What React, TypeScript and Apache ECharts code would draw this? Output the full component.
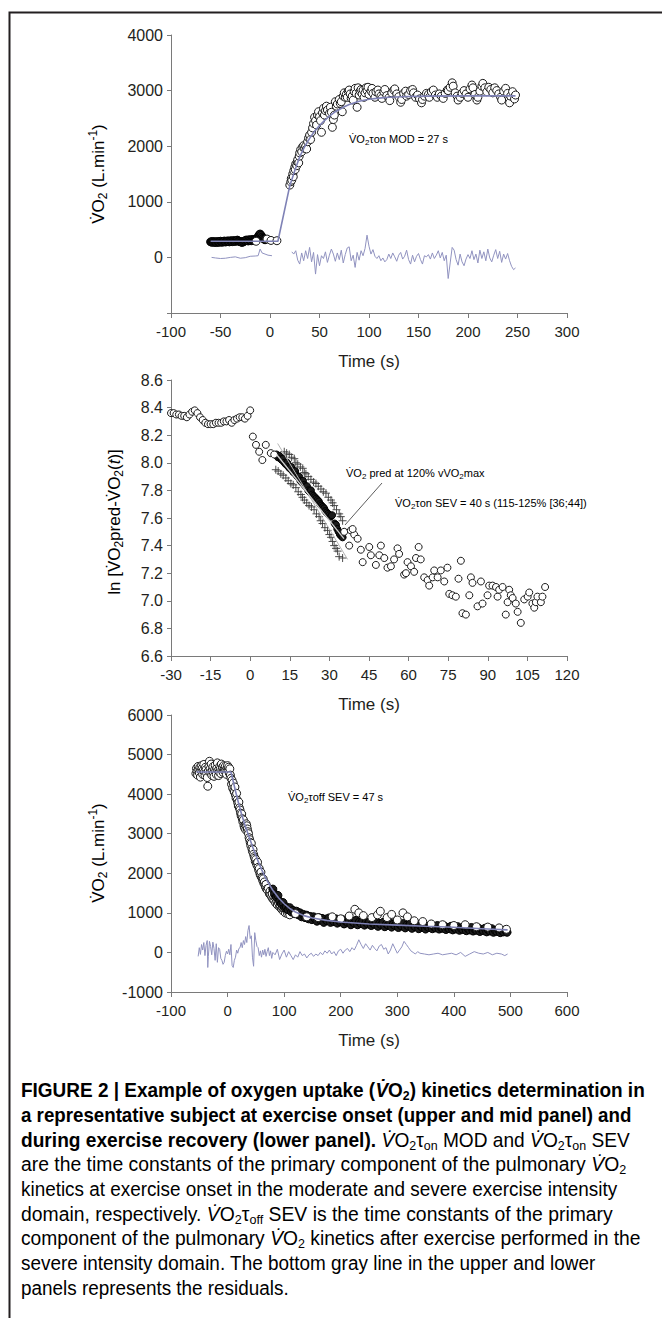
import React, { useEffect, useRef } from "react";
import * as echarts from "echarts";

type P = [number, number];

// ---------------- Upper panel: moderate exercise onset ----------------
const topBaseline: P[] = [[-60,280],[-59,275],[-58,285],[-57,270],[-56,282],[-55,276],[-54,268],[-53,285],[-52,279],[-51,272],[-50,290],[-49,281],[-48,274],[-47,287],[-46,293],[-45,278],[-44,285],[-43,296],[-42,288],[-41,280],[-40,299],[-39,292],[-38,284],[-37,302],[-36,295],[-35,288],[-34,300],[-33,310],[-32,296],[-31,289],[-30,284],[-29,276],[-28,270],[-27,283],[-26,291],[-25,300],[-24,312],[-23,305],[-22,296],[-21,318],[-20,309],[-19,300],[-18,322],[-17,314],[-16,305],[-15,326],[-14,318],[-13,340],[-12,372],[-11,405],[-10,420],[-9,398],[-8,366],[-7,345],[-6,330],[-5,318]];
const topBaselineOpen: P[] = [[-14,290],[-3,330],[1,305],[7,300]];
const topExercise: P[] = [[20,1300],[21,1360],[21.5,1420],[22,1390],[23,1500],[23.5,1450],[24,1560],[25,1620],[25.5,1580],[26,1680],[27,1650],[27.5,1720],[28,1760],[29,1700],[29.5,1820],[30,1880],[31,1940],[32,1900],[33,1990],[34,2010],[35,1960],[36,2000],[37,1950],[38,2080],[39,2150],[40,2200],[41,2120],[42,2250],[43,2330],[44,2410],[45,2520],[46,2460],[47,2380],[48,2560],[49,2620],[50,2530],[51,2460],[52,2250],[53,2600],[54,2680],[55,2560],[56,2640],[57,2720],[58,2650],[60,2590],[61,2700],[62,2610],[63,2340],[64,2480],[65,2560],[66,2800],[67,2720],[68,2760],[70,2840],[71,2770],[72,2800],[73,2620],[74,2900],[75,2960],[76,2880],[77,2930],[78,2880],[79,2990],[80,3010],[81,2940],[82,2860],[83,2900],[84,2830],[85,2980],[86,3040],[87,2950],[88,2700],[89,3050],[90,2920],[91,2990],[92,3020],[93,2940],[94,3010],[95,2880],[96,2960],[97,3050],[98,3000],[99,3060],[100,2930],[102,2990],[103,3040],[104,2950],[106,2880],[107,2980],[109,3010],[110,2940],[112,2900],[113,2860],[115,2980],[116,3020],[118,2910],[120,2870],[121,2820],[123,2960],[125,3010],[126,3030],[128,2940],[130,2890],[132,2790],[133,2840],[135,2950],[137,2990],[138,2900],[140,2930],[142,3000],[144,3020],[145,2960],[147,2880],[149,2920],[151,2850],[153,2780],[154,2840],[156,2900],[158,2950],[160,2930],[161,2880],[163,2980],[165,3010],[167,2920],[169,2880],[171,2940],[173,2900],[175,2860],[177,2950],[179,3010],[180,3000],[182,3060],[184,3140],[185,3080],[187,2960],[189,2900],[190,2830],[192,2880],[194,2950],[196,3000],[198,2940],[200,2880],[202,3030],[204,3100],[205,3050],[207,2930],[209,2830],[210,2880],[212,2990],[214,3080],[215,3130],[217,3050],[219,2980],[221,3060],[223,3020],[225,2960],[227,3050],[229,3000],[231,2940],[233,2880],[234,2830],[236,2990],[238,3040],[240,2950],[242,2780],[243,2900],[245,2980],[247,2850],[248,2920]];
const topFit: P[] = [[-60,290],[8,290],[20,1290],[25,1560],[30,1810],[35,1990],[40,2140],[45,2270],[50,2370],[55,2460],[60,2540],[65,2610],[70,2660],[75,2710],[80,2750],[90,2810],[100,2845],[110,2865],[120,2880],[140,2895],[160,2900],[200,2905],[248,2905]];
const topResidPre: P[] = [[-59,0],[-55,-10],[-50,-20],[-45,-15],[-40,0],[-35,10],[-30,-15],[-25,-5],[-20,20],[-15,25],[-12,30],[-10,150],[-8,80],[-5,60],[-2,40],[2,30]];
const topResidPost: P[] = [[22,100],[24,60],[26,120],[28,-50],[30,-120],[32,80],[34,-60],[36,120],[38,-20],[40,180],[42,-80],[44,90],[46,-300],[48,50],[50,-150],[52,30],[54,-20],[56,100],[58,-90],[60,40],[62,150],[64,60],[66,-70],[68,80],[70,-40],[72,130],[74,-100],[76,50],[78,170],[80,190],[82,-60],[84,40],[86,-180],[88,90],[90,-50],[92,120],[94,30],[96,160],[98,400],[100,200],[102,60],[104,140],[106,20],[108,-20],[110,30],[112,-60],[114,-10],[116,-80],[118,-40],[120,60],[122,-20],[124,80],[126,10],[128,-70],[130,40],[132,90],[134,-30],[136,20],[138,130],[140,-40],[142,-120],[144,40],[146,-80],[148,20],[150,70],[152,-40],[154,-120],[156,30],[158,10],[160,50],[162,-30],[164,80],[166,-20],[168,40],[170,120],[172,-10],[174,90],[176,-60],[178,40],[180,-380],[182,-100],[184,180],[186,130],[188,-40],[190,-140],[192,60],[194,-80],[196,-150],[198,-30],[200,50],[202,-20],[204,120],[206,-40],[208,60],[210,-100],[212,130],[214,-20],[216,100],[218,-60],[220,150],[222,-10],[224,-80],[226,40],[228,140],[230,-20],[232,110],[234,-90],[236,60],[238,-30],[240,70],[242,-60],[244,-160],[246,-220],[248,-190]];

// ---------------- Mid panel: ln transform, severe onset ----------------
const midBaseline: P[] = [[-30,8.36],[-29,8.36],[-28,8.35],[-27,8.35],[-26,8.34],[-25,8.34],[-24,8.33],[-23,8.35],[-22,8.37],[-21,8.38],[-20,8.36],[-19,8.33],[-18,8.31],[-17,8.29],[-16,8.28],[-15,8.28],[-14,8.28],[-13,8.29],[-12,8.29],[-11,8.29],[-10,8.30],[-9,8.30],[-8,8.31],[-7,8.29],[-6,8.31],[-5,8.32],[-4,8.33],[-3,8.33],[-2,8.32],[-1,8.34],[0,8.38]];
const midEarly: P[] = [[1,8.19],[2.2,8.13],[3.4,8.08],[4.6,8.02],[5.9,8.13],[7.8,8.07],[9.1,8.06]];
const midDense: P[] = [[10,8.06],[10.5,8.04],[11,8.05],[11.5,8.03],[12,8.02],[12.5,8.03],[13,8.00],[13.5,7.99],[14,8.00],[14.5,7.97],[15,7.96],[15.5,7.97],[16,7.94],[16.5,7.93],[17,7.94],[17.5,7.91],[18,7.90],[18.5,7.90],[19,7.87],[19.5,7.86],[20,7.87],[20.5,7.84],[21,7.83],[21.5,7.83],[22,7.80],[22.5,7.79],[23,7.80],[23.5,7.77],[24,7.76],[24.5,7.75],[25,7.74],[25.5,7.73],[26,7.72],[26.5,7.70],[27,7.69],[27.5,7.68],[28,7.67],[28.5,7.65],[29,7.64],[29.5,7.63],[30,7.62],[30.5,7.61],[31,7.62],[32,7.56],[32.5,7.55],[33,7.52],[33.5,7.50],[34,7.48],[34.5,7.47],[35,7.46]];
const midCrossUpper: P[] = [[12.9,8.08],[13.8,8.07],[14.8,8.06],[15.7,8.04],[16.7,8.03],[17.3,8.00],[18,7.99],[19,7.97],[19.9,7.96],[20.5,7.93],[21.1,7.92],[22,7.90],[23,7.88],[24,7.86],[24.9,7.85],[25.8,7.83],[26.8,7.81],[27.7,7.79],[28.7,7.78],[29.6,7.75],[30.6,7.73],[31.2,7.71],[31.8,7.69],[32.7,7.66],[33.7,7.63],[34.3,7.61],[35,7.58]];
const midCrossLower: P[] = [[9.7,7.95],[10.6,7.94],[11.6,7.92],[12.5,7.91],[13.5,7.89],[14.4,7.87],[15.4,7.85],[16.3,7.84],[17.3,7.82],[18.2,7.79],[19.2,7.77],[19.8,7.75],[20.5,7.73],[21.4,7.71],[22.3,7.69],[23.2,7.68],[24.2,7.66],[25.1,7.63],[26.1,7.61],[26.7,7.58],[27.4,7.56],[28.3,7.53],[29.3,7.51],[30,7.48],[30.6,7.46],[31.2,7.43],[31.8,7.40],[32.5,7.38],[33.1,7.36],[33.7,7.32],[35,7.31]];
const midLineCenter: P[] = [[10,8.06],[35.5,7.45]];
const midLineSteep: P[] = [[10.4,8.14],[36.9,7.30]];
const midLate: P[] = [[35.6,7.50],[38.1,7.51],[39.4,7.48],[37.5,7.40],[38.8,7.52],[40.7,7.45],[41.9,7.37],[45.1,7.39],[42.6,7.28],[45.7,7.33],[48.9,7.33],[49.5,7.40],[47.6,7.26],[50.8,7.31],[52.0,7.24],[53.3,7.25],[54.5,7.30],[55.8,7.38],[56.4,7.34],[58.3,7.19],[59.0,7.20],[59.6,7.28],[60.9,7.25],[62.1,7.21],[62.8,7.31],[63.8,7.39],[64.6,7.30],[65.9,7.17],[67.2,7.15],[67.8,7.11],[69.1,7.17],[69.7,7.22],[71.0,7.17],[72.2,7.22],[73.5,7.14],[74.7,7.24],[75.4,7.05],[76.6,7.04],[77.9,7.03],[78.9,7.16],[79.8,7.29],[80.4,6.91],[81.7,6.90],[83.0,7.04],[83.6,7.17],[84.2,7.13],[86.1,6.96],[87.4,7.14],[88.0,6.98],[89.9,7.04],[90.5,7.11],[91.8,7.11],[93.1,7.10],[93.7,7.03],[94.3,7.08],[95.6,7.10],[96.8,6.90],[97.5,6.99],[98.1,7.08],[98.7,7.04],[99.4,7.02],[100.6,6.98],[101.3,6.92],[102.5,6.84],[103.8,7.01],[105.1,7.03],[105.7,7.06],[106.9,6.98],[107.6,6.95],[108.2,6.99],[108.8,7.03],[110.1,6.99],[110.7,7.03],[111.7,7.10]];

// ---------------- Lower panel: recovery ----------------
const botBaseline: P[] = [[-56,4520],[-55,4650],[-54,4580],[-53,4480],[-52,4700],[-51,4610],[-50,4540],[-49,4680],[-48,4430],[-47,4590],[-46,4720],[-45,4650],[-44,4500],[-43,4600],[-42,4750],[-41,4560],[-40,4470],[-39,4680],[-38,4620],[-37,4530],[-36,4420],[-35,4200],[-34,4580],[-33,4700],[-32,4830],[-31,4640],[-30,4550],[-29,4760],[-28,4480],[-27,4600],[-26,4690],[-25,4540],[-24,4450],[-23,4620],[-22,4730],[-21,4580],[-20,4500],[-19,4660],[-18,4790],[-17,4600],[-16,4470],[-15,4560],[-14,4700],[-13,4640],[-12,4520],[-11,4760],[-10,4610],[-9,4680],[-8,4550],[-7,4720],[-6,4640],[-5,4580],[-4,4700],[-3,4610],[-2,4500],[-1,4660],[0,4720],[1,4600],[2,4680],[3,4530],[4,4640],[5,4480]];
const botDrop: P[] = [[6,4400],[7,4250],[8,4350],[9,4150],[10,4280],[11,4100],[12,4050],[13,4180],[14,3980],[15,3900],[16,4020],[17,3850],[18,3780],[19,3700],[20,3800],[21,3650],[22,3600],[23,3520],[24,3450],[25,3500],[26,3380],[27,3300],[28,3350],[29,3200],[30,3150],[31,3220],[32,3100],[33,3250],[34,3200],[35,3120],[36,3050],[37,3000],[38,2900],[39,2850],[40,2780],[41,2700],[42,2760],[43,2620],[44,2550],[45,2600],[46,2480],[47,2420],[48,2380],[49,2300],[50,2350],[51,2250],[52,2200],[53,2280],[54,2150],[55,2080],[56,2120],[57,2000],[58,1950],[59,2030],[60,1900],[61,1880],[62,1820],[63,1860],[64,1750],[65,1780],[66,1700],[67,1650],[68,1720],[69,1600],[70,1580],[72,1620],[74,1480],[75,1550],[76,1450],[78,1400],[79,1480],[80,1350],[82,1320],[84,1380],[85,1250],[87,1300],[88,1200],[90,1250],[92,1150],[93,1180],[95,1100],[97,1130],[98,1050],[100,1080],[102,1000],[104,1060],[106,980],[108,1020],[110,950]];
const botBand: P[] = [[80,1600],[83,1480],[86,1400],[89,1440],[92,1290],[95,1230],[98,1260],[101,1130],[104,1150],[107,1080],[110,1130],[113,1020],[116,1060],[119,980],[122,1040],[125,950],[128,1000],[131,900],[134,960],[137,880],[140,940],[143,850],[146,910],[149,830],[152,900],[155,850],[158,790],[161,880],[164,820],[167,860],[170,760],[173,840],[176,800],[179,870],[182,760],[185,820],[188,780],[191,850],[194,740],[197,810],[200,770],[203,830],[206,720],[209,790],[212,760],[215,820],[218,700],[221,780],[224,740],[227,810],[230,700],[233,770],[236,730],[239,800],[242,690],[245,760],[248,720],[251,780],[254,680],[257,740],[260,710],[263,770],[266,660],[269,730],[272,700],[275,760],[278,650],[281,720],[284,690],[287,750],[290,640],[293,710],[296,680],[299,740],[302,630],[305,700],[308,670],[311,730],[314,620],[317,690],[320,660],[323,720],[326,610],[329,680],[332,650],[335,710],[338,600],[341,670],[344,640],[347,700],[350,590],[353,660],[356,630],[359,690],[362,600],[365,650],[368,620],[371,680],[374,590],[377,640],[380,610],[383,670],[386,580],[389,630],[392,600],[395,660],[398,570],[401,620],[404,590],[407,650],[410,560],[413,610],[416,580],[419,640],[422,550],[425,600],[428,570],[431,630],[434,540],[437,590],[440,560],[443,620],[446,530],[449,580],[452,550],[455,610],[458,520],[461,570],[464,540],[467,600],[470,510],[473,560],[476,530],[479,580],[482,500],[485,550],[488,520],[491,570],[494,510]];
const botScatter: P[] = [[120,980],[140,900],[160,880],[185,900],[200,850],[215,920],[225,1090],[232,1000],[240,930],[255,880],[265,950],[270,1040],[282,880],[290,960],[300,820],[310,1000],[318,900],[330,800],[345,780],[360,720],[380,700],[400,680],[420,700],[440,650],[460,640],[480,620],[493,585]];
const botFit: P[] = [[-55,4560],[6,4560],[10,4320],[15,4020],[20,3740],[25,3480],[30,3250],[36,3000],[40,2840],[45,2640],[50,2450],[55,2270],[60,2100],[65,1950],[70,1810],[80,1570],[90,1380],[100,1230],[110,1110],[120,1020],[135,930],[150,870],[175,810],[200,770],[250,720],[300,690],[350,660],[400,635],[450,600],[495,570]];
const botResid: P[] = [[-52,-100],[-50,120],[-48,-50],[-46,200],[-44,60],[-42,250],[-40,-80],[-38,180],[-36,300],[-35,-380],[-34,-100],[-32,280],[-30,150],[-28,-60],[-26,260],[-24,100],[-22,-200],[-20,220],[-18,-250],[-16,120],[-14,80],[-12,-150],[-10,-200],[-8,-300],[-6,-250],[-4,-80],[-2,30],[0,-40],[2,80],[4,-60],[6,200],[8,-330],[10,-380],[12,-200],[14,-120],[16,60],[18,-20],[20,100],[22,120],[24,250],[26,120],[28,300],[30,200],[32,400],[34,250],[36,550],[38,680],[40,350],[42,420],[44,-120],[46,-350],[48,500],[50,300],[52,150],[54,120],[56,-80],[58,40],[60,-120],[62,60],[64,-60],[66,80],[68,-100],[70,20],[72,120],[74,-80],[76,40],[78,-150],[80,0],[84,-60],[88,80],[92,-180],[96,-40],[100,60],[104,-120],[108,20],[112,-80],[116,-180],[120,-60],[124,-120],[128,20],[132,-80],[136,-40],[140,-140],[144,-60],[148,-20],[152,-100],[156,-40],[160,-80],[164,0],[168,-60],[172,40],[176,-20],[180,60],[184,-40],[188,20],[192,-80],[196,40],[200,80],[204,-20],[208,60],[212,100],[216,20],[220,120],[224,60],[228,180],[232,320],[236,200],[240,100],[244,220],[248,140],[252,60],[256,180],[260,100],[264,40],[268,160],[272,200],[276,80],[280,120],[284,-40],[288,60],[292,220],[296,100],[300,-20],[304,60],[308,140],[312,280],[316,200],[320,120],[324,40],[328,0],[332,-40],[336,20],[340,-20],[348,-40],[356,-60],[364,-40],[372,-20],[380,-60],[388,-40],[396,-20],[404,-60],[412,0],[420,-100],[428,-40],[436,20],[444,-20],[452,-40],[460,0],[468,-60],[476,-20],[484,-40],[490,-80],[495,-40]];

// ---------------- Text ----------------
const X_TITLE = "Time (s)";
const DOT_V = "V\u0307";

const TXT = "#231f20";
const AX = "#7a7a7a";
const FIT = "#7f82b6";
const RES = "#9193c0";
const CHART_FONT = "Liberation Sans, Arial, Helvetica, sans-serif";
const CAP_FONT = "Liberation Sans Narrow, Liberation Sans, Arial, sans-serif";

type Tok = [string, string];
const captionLines: Tok[][] = [
  [["b", "FIGURE 2 | Example of oxygen uptake ("], ["bi", DOT_V], ["b", "O"], ["bs", "2"], ["b", ") kinetics determination in"]],
  [["b", "a representative subject at exercise onset (upper and mid panel) and"]],
  [["b", "during exercise recovery (lower panel). "], ["ri", DOT_V], ["r", "O"], ["rs", "2"], ["r", "\u03c4"], ["rs", "on"], ["r", " MOD and "], ["ri", DOT_V], ["r", "O"], ["rs", "2"], ["r", "\u03c4"], ["rs", "on"], ["r", " SEV"]],
  [["r", "are the time constants of the primary component of the pulmonary "], ["ri", DOT_V], ["r", "O"], ["rs", "2"]],
  [["r", "kinetics at exercise onset in the moderate and severe exercise intensity"]],
  [["r", "domain, respectively. "], ["ri", DOT_V], ["r", "O"], ["rs", "2"], ["r", "\u03c4"], ["rs", "off"], ["r", " SEV is the time constants of the primary"]],
  [["r", "component of the pulmonary "], ["ri", DOT_V], ["r", "O"], ["rs", "2"], ["r", " kinetics after exercise performed in the"]],
  [["r", "severe intensity domain. The bottom gray line in the upper and lower"]],
  [["r", "panels represents the residuals."]],
];
const captionRight = [645, 632, 630, 626, 618, 613, 641, 596, 289];

const CAP_SIZE = 20;
const CAP_SUB = 13;
const CAP_LH = 24;
const capRich: Record<string, any> = {
  b: { fontFamily: CAP_FONT, fontSize: CAP_SIZE, fontWeight: "bold", color: "#1a1a1a", lineHeight: CAP_LH },
  bi: { fontFamily: CAP_FONT, fontSize: CAP_SIZE, fontWeight: "bold", fontStyle: "italic", color: "#1a1a1a", lineHeight: CAP_LH },
  bs: { fontFamily: CAP_FONT, fontSize: CAP_SUB, fontWeight: "bold", color: "#1a1a1a", lineHeight: 14, verticalAlign: "bottom" },
  r: { fontFamily: CAP_FONT, fontSize: CAP_SIZE, color: "#3f3f3f", lineHeight: CAP_LH },
  ri: { fontFamily: CAP_FONT, fontSize: CAP_SIZE, fontStyle: "italic", color: "#3f3f3f", lineHeight: CAP_LH },
  rs: { fontFamily: CAP_FONT, fontSize: CAP_SUB, color: "#3f3f3f", lineHeight: 14, verticalAlign: "bottom" },
};

const smallRich: Record<string, any> = {
  a: { fontFamily: CHART_FONT, fontSize: 11, color: TXT, lineHeight: 14 },
  s: { fontFamily: CHART_FONT, fontSize: 8, color: TXT, lineHeight: 8, verticalAlign: "bottom" },
};
const titleRich: Record<string, any> = {
  n: { fontFamily: CHART_FONT, fontSize: 17, color: TXT, lineHeight: 22 },
  ni: { fontFamily: CHART_FONT, fontSize: 17, fontStyle: "italic", color: TXT, lineHeight: 22 },
  s: { fontFamily: CHART_FONT, fontSize: 12, color: TXT, lineHeight: 12, verticalAlign: "bottom" },
  p: { fontFamily: CHART_FONT, fontSize: 12, color: TXT, lineHeight: 12, verticalAlign: "top" },
};

const toRich = (toks: Tok[]) => toks.map(([s, t]) => `{${s}|${t}}`).join("");

export default function App() {
  const ref = useRef<HTMLDivElement>(null);

  useEffect(() => {
    if (!ref.current) return;
    const chart = echarts.init(ref.current, null, { renderer: "svg" });

    const ctx = document.createElement("canvas").getContext("2d")!;
    const tokWidth = (s: string, t: string) => {
      const st = capRich[s];
      ctx.font = `${st.fontStyle || "normal"} ${st.fontWeight || "normal"} ${st.fontSize}px ${st.fontFamily}`;
      return ctx.measureText(t).width;
    };
    const CAP_LEFT = 21;
    const CAP_TOP = 1090;
    const CAP_STEP = 24.7;
    const captionEls = captionLines.map((toks, i) => {
      const w = toks.reduce((a, [s, t]) => a + tokWidth(s, t), 0);
      const sx = w > 0 ? (captionRight[i] - CAP_LEFT) / w : 1;
      return {
        type: "text",
        x: CAP_LEFT,
        y: CAP_TOP + i * CAP_STEP,
        scaleX: sx,
        silent: true,
        z: 20,
        style: { x: 0, y: 0, text: toRich(toks), rich: capRich, align: "left", textAlign: "left", verticalAlign: "middle", textVerticalAlign: "middle" },
      };
    });

    const smallText = (x: number, y: number, toks: Tok[]) => ({
      type: "text", x, y, silent: true, z: 20,
      style: { x: 0, y: 0, text: toRich(toks), rich: smallRich, align: "left", textAlign: "left", verticalAlign: "middle", textVerticalAlign: "middle" },
    });
    const yTitle = (x: number, y: number, toks: Tok[]) => ({
      type: "text", x, y, rotation: Math.PI / 2, silent: true, z: 20,
      style: { x: 0, y: 0, text: toRich(toks), rich: titleRich, align: "center", textAlign: "center", verticalAlign: "middle", textVerticalAlign: "middle" },
    });

    const grids = [
      { left: 171, top: 35, width: 396, height: 278 },
      { left: 171, top: 380, width: 396, height: 276 },
      { left: 171, top: 715, width: 396, height: 277 },
    ].map((g) => ({ ...g, containLabel: false, outerBoundsMode: "none" }));

    const xAxis = (gi: number, min: number, max: number, interval: number) => ({
      type: "value", gridIndex: gi, min, max, interval,
      axisLine: { show: true, onZero: false, lineStyle: { color: AX, width: 1 } },
      axisTick: { show: true, inside: false, length: 5, lineStyle: { color: AX, width: 1 } },
      splitLine: { show: false },
      axisLabel: { fontSize: 15, color: TXT, margin: 11, fontFamily: CHART_FONT },
      name: X_TITLE, nameLocation: "middle", nameGap: 40,
      nameTextStyle: { fontSize: 17, color: TXT, fontFamily: CHART_FONT },
    });
    const yAxis = (gi: number, min: number, max: number, interval: number, fmt: (v: number) => string) => ({
      type: "value", gridIndex: gi, min, max, interval,
      axisLine: { show: true, onZero: false, lineStyle: { color: AX, width: 1 } },
      axisTick: { show: true, inside: false, length: 4, lineStyle: { color: AX, width: 1 } },
      splitLine: { show: false },
      axisLabel: { fontSize: 16, color: TXT, margin: 8, fontFamily: CHART_FONT, formatter: fmt },
    });

    const openPts = (gi: number, data: P[], size: number) => ({
      type: "scatter", xAxisIndex: gi, yAxisIndex: gi, data, symbol: "circle", symbolSize: size, silent: true,
      itemStyle: { color: "#ffffff", borderColor: "#1a1a1a", borderWidth: 1, opacity: 1 },
    });
    const densePts = (gi: number, data: P[], size: number) => ({
      type: "scatter", xAxisIndex: gi, yAxisIndex: gi, data, symbol: "circle", symbolSize: size, silent: true,
      itemStyle: { color: "#1c1c1c", borderColor: "#000000", borderWidth: 1, opacity: 1 },
    });
    const crossPts = (gi: number, data: P[]) => ({
      type: "scatter", xAxisIndex: gi, yAxisIndex: gi, data, symbol: "path://M0 5 L10 5 M5 0 L5 10", symbolSize: 8, silent: true,
      itemStyle: { color: "transparent", borderColor: "#3a3a3a", borderWidth: 0.9, opacity: 1 },
    });
    const line = (gi: number, data: P[], color: string, width: number) => ({
      type: "line", xAxisIndex: gi, yAxisIndex: gi, data, symbol: "none", showSymbol: false, silent: true,
      lineStyle: { color, width }, z: 3,
    });

    const option: any = {
      animation: false,
      backgroundColor: "#ffffff",
      textStyle: { fontFamily: CHART_FONT },
      grid: grids,
      xAxis: [xAxis(0, -100, 300, 50), xAxis(1, -30, 120, 15), xAxis(2, -100, 600, 100)],
      yAxis: [
        yAxis(0, -1000, 4000, 1000, (v) => (v === -1000 ? "" : String(v))),
        yAxis(1, 6.6, 8.6, 0.2, (v) => v.toFixed(1)),
        yAxis(2, -1000, 6000, 1000, (v) => String(v)),
      ],
      series: [
        // upper
        densePts(0, topBaseline, 8),
        openPts(0, topBaselineOpen, 8),
        openPts(0, topExercise, 8),
        line(0, topFit, FIT, 1.6),
        line(0, topResidPre, RES, 1),
        line(0, topResidPost, RES, 1),
        // mid
        line(1, midLineSteep, "#b5b5b5", 1),
        crossPts(1, midCrossUpper),
        crossPts(1, midCrossLower),
        densePts(1, midDense, 7),
        line(1, midLineCenter, "#d0d0d0", 1.3),
        openPts(1, midBaseline, 7),
        openPts(1, midEarly, 7),
        openPts(1, midLate, 7),
        // lower
        openPts(2, botBaseline, 8),
        openPts(2, botDrop, 8),
        densePts(2, botBand, 8),
        openPts(2, botScatter, 8),
        line(2, botFit, FIT, 1.6),
        line(2, botResid, RES, 1),
      ],
      graphic: {
        elements: [
          { type: "rect", silent: true, z: 30, shape: { x: 9.5, y: 12.5, width: 720, height: 1420 }, style: { fill: "none", stroke: "#231f20", lineWidth: 2 } },
          yTitle(98, 174, [["n", DOT_V + "O"], ["s", "2"], ["n", " (L.min"], ["p", "-1"], ["n", ")"]]),
          yTitle(114, 522, [["n", "ln ["], ["n", DOT_V + "O"], ["s", "2"], ["n", "pred-" + DOT_V + "O"], ["s", "2"], ["n", "("], ["ni", "t"], ["n", ")]"]]),
          yTitle(98, 853, [["n", DOT_V + "O"], ["s", "2"], ["n", " (L.min"], ["p", "-1"], ["n", ")"]]),
          smallText(349, 139, [["a", DOT_V + "O"], ["s", "2"], ["a", "\u03c4on MOD = 27 s"]]),
          smallText(346, 473, [["a", DOT_V + "O"], ["s", "2"], ["a", " pred at 120% vVO"], ["s", "2"], ["a", "max"]]),
          smallText(395, 503, [["a", DOT_V + "O"], ["s", "2"], ["a", "\u03c4on SEV = 40 s (115-125% [36;44])"]]),
          smallText(288, 797, [["a", DOT_V + "O"], ["s", "2"], ["a", "\u03c4off SEV = 47 s"]]),
          { type: "line", silent: true, z: 20, shape: { x1: 382, y1: 483, x2: 345, y2: 525 }, style: { stroke: "#333333", lineWidth: 0.8 } },
          ...captionEls,
        ],
      },
    };

    chart.setOption(option);
    return () => chart.dispose();
  }, []);

  return (
    <div
      ref={ref}
      style={{ position: "absolute", left: 0, top: 0, width: 662, height: 1318, background: "#ffffff" }}
    />
  );
}
